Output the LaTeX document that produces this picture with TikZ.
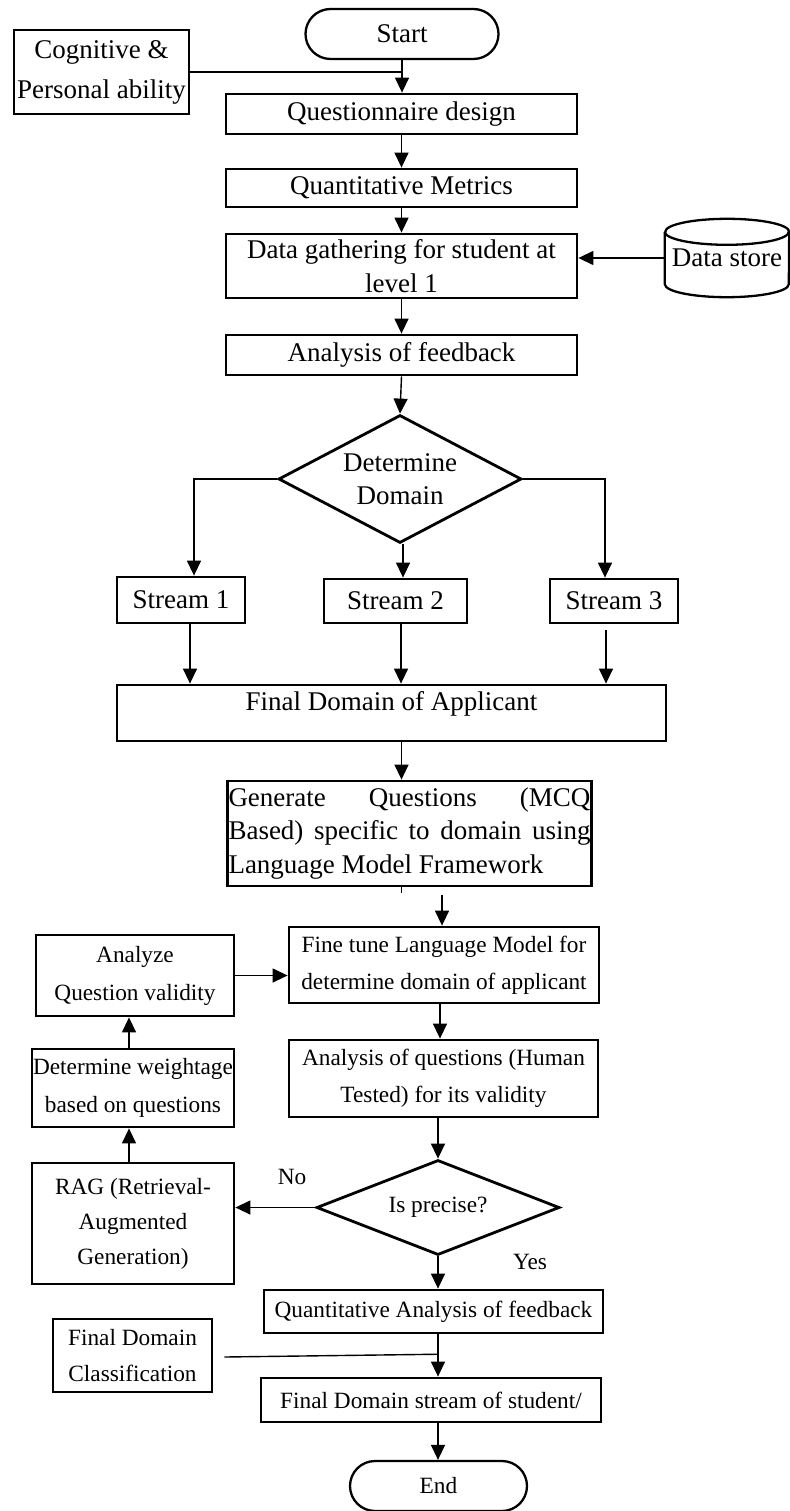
\documentclass[tikz,border=0pt]{standalone}
\usepackage{fontspec}
\setmainfont{Liberation Serif}
\usepackage{tikz}
\usetikzlibrary{arrows.meta,shapes.geometric,calc,positioning}

\begin{document}
\begin{tikzpicture}[x=1pt, y=1pt,
  bigtext/.style={font=\fontsize{27}{33.5}\selectfont},
  smalltext/.style={font=\fontsize{23.3}{37}\selectfont},
  box/.style={draw, line width=2.8pt, inner sep=1pt, align=center},
  term/.style={box, rounded corners=25pt, line width=2.3pt},
  choice/.style={draw, diamond, line width=2.8pt, inner sep=0pt, align=center},
  link/.style={line width=1.4pt},
  flow/.style={link, -{Triangle[length=15pt,width=14pt]}}]
\useasboundingbox (0,0) rectangle (789,-1511);
%%%%% Upper part %%%%%
\node[term, bigtext, minimum width=193pt, minimum height=50pt] (start) at (402,-34) {Start};
\node[box, bigtext, font=\fontsize{27}{40}\selectfont, minimum width=175pt, minimum height=84pt] (cog) at (101.5,-72) {Cognitive \&\\Personal ability};
\node[box, bigtext, minimum width=351pt, minimum height=40pt] (quest) at (401.5,-114) {Questionnaire design};
\node[box, bigtext, minimum width=351pt, minimum height=38pt] (metrics) at (401.5,-188) {Quantitative Metrics};
\node[box, bigtext, minimum width=351pt, minimum height=64pt] (gather) at (401.5,-266) {Data gathering for student at\\level 1};
\node[bigtext, minimum width=124pt, minimum height=78pt, inner sep=0pt] (store) at (727,-258) {Data store};
\draw[line width=2.3pt] ([yshift=-13pt]store.north west) -- ([yshift=13pt]store.south west)
  arc[start angle=180, end angle=360, x radius=62pt, y radius=13pt]
  -- ([yshift=-13pt]store.north east)
  arc[start angle=0, end angle=180, x radius=62pt, y radius=13pt];
\draw[line width=2.3pt] ([yshift=-13pt]store.north west) arc[start angle=180, end angle=360, x radius=62pt, y radius=13pt];
\node[box, bigtext, minimum width=351pt, minimum height=40pt] (feedback) at (401.5,-355) {Analysis of feedback};
\node[choice, bigtext, aspect=1.9, minimum width=243pt, minimum height=128pt] (domain) at (400,-479) {Determine\\Domain};
%%%%% Streams %%%%%
\node[box, bigtext, minimum width=128pt, minimum height=46pt] (s1) at (181,-600) {Stream 1};
\node[box, bigtext, minimum width=143pt, minimum height=44pt] (s2) at (395.5,-601) {Stream 2};
\node[box, bigtext, minimum width=128pt, minimum height=44pt] (s3) at (614,-601) {Stream 3};
\node[box, bigtext, minimum width=549pt, minimum height=56pt, text depth=24pt] (applicant) at (391.5,-713) {Final Domain of Applicant};
\node[box, bigtext, inner xsep=0pt, text width=362pt, align=justify, minimum width=364pt, minimum height=105pt] (generate) at (409.5,-833.5)
  {Generate Questions (MCQ\linebreak Based) specific to domain using\linebreak Language Model Framework};
%%%%% Lower part %%%%%
\node[box, smalltext, minimum width=310pt, minimum height=76pt] (tune) at (444,-965) {Fine tune Language Model for\\determine domain of applicant};
\node[box, smalltext, font=\fontsize{23.3}{38}\selectfont, minimum width=198pt, minimum height=81pt] (analyze) at (135,-975.5) {Analyze\\Question validity};
\node[box, smalltext, minimum width=309pt, minimum height=77pt] (checkq) at (443.5,-1078.5) {Analysis of questions (Human\\Tested) for its validity};
\node[box, smalltext, font=\fontsize{23.3}{38}\selectfont, minimum width=202pt, minimum height=78pt] (weight) at (133,-1088) {Determine weightage\\based on questions};
\node[box, smalltext, font=\fontsize{23.3}{35}\selectfont, minimum width=202pt, minimum height=121pt] (rag) at (133,-1223.5) {RAG (Retrieval-\\Augmented\\Generation)};
\node[choice, smalltext, aspect=2.5, minimum width=243pt, minimum height=95pt] (precise) at (438,-1207.5) {Is precise?};
\node[box, smalltext, minimum width=339pt, minimum height=43pt] (quant) at (433.5,-1311.5) {Quantitative Analysis of feedback};
\node[box, smalltext, font=\fontsize{23.3}{36}\selectfont, minimum width=159pt, minimum height=73pt] (classif) at (132.5,-1355.5) {Final Domain\\Classification};
\node[box, smalltext, minimum width=340pt, minimum height=44pt] (fstream) at (431,-1400) {Final Domain stream of student/};
\node[term, smalltext, minimum width=177pt, minimum height=50pt] (finish) at (438.5,-1486) {End};
\node[smalltext] (nolabel) at (292,-1177) {No};
\node[smalltext] (yeslabel) at (530,-1262) {Yes};
%%%%% Connectors %%%%%
\draw[flow] (start.south) -- (start.south |- quest.north);
\draw[link] (cog.east) -- (cog.east -| start.south);
\draw[flow] (quest.south) -- (metrics.north);
\draw[flow] (metrics.south) -- (gather.north);
\draw[flow] (store.west) -- (store.west -| gather.east);
\draw[flow] (gather.south) -- (feedback.north);
\draw[flow] (feedback.south) -- (domain.north);
\draw[flow] (domain.west) -| ([xshift=13pt]s1.north);
\draw[flow] ([xshift=3pt]domain.south) -- ([xshift=3pt]domain.south |- s2.north);
\draw[flow] (domain.east) -| ([xshift=-9pt]s3.north);
\draw[flow] ([xshift=9pt]s1.south) -- ([xshift=9pt]s1.south |- applicant.north);
\draw[flow] ([xshift=5.5pt]s2.south) -- ([xshift=5.5pt]s2.south |- applicant.north);
\draw[flow] ([xshift=-8pt,yshift=-6pt]s3.south) -- ([xshift=-8pt]s3.south |- applicant.north);
\draw[flow] (applicant.south -| quest.south) -- (generate.north -| quest.south);
\draw[link] (generate.south -| quest.south) -- ++(0,-6);
\coordinate (tunein) at ([xshift=-2pt,yshift=31pt]tune.north);
\draw[flow] (tunein) -- (tunein |- tune.north);
\draw[flow] (analyze.east) -- (analyze.east -| tune.west);
\draw[flow] ([xshift=-4pt]tune.south) -- ([xshift=-4pt]tune.south |- checkq.north);
\draw[flow] ([xshift=-4pt]weight.north) -- ([xshift=-4pt]weight.north |- analyze.south);
\draw[flow] ([xshift=-4pt]rag.north) -- ([xshift=-4pt]rag.north |- weight.south);
\draw[flow] (precise.north |- checkq.south) -- (precise.north);
\draw[flow] (precise.west) -- (precise.west -| rag.east);
\draw[flow] (precise.south) -- (precise.south |- quant.north);
\draw[flow] (precise.south |- quant.south) -- (precise.south |- fstream.north);
\draw[link] ([xshift=11pt,yshift=-1.5pt]classif.east) -- ($(precise.south |- quant.south)!0.47!(precise.south |- fstream.north)$);
\draw[flow] (precise.south |- fstream.south) -- (precise.south |- finish.north);
\end{tikzpicture}
\end{document}
